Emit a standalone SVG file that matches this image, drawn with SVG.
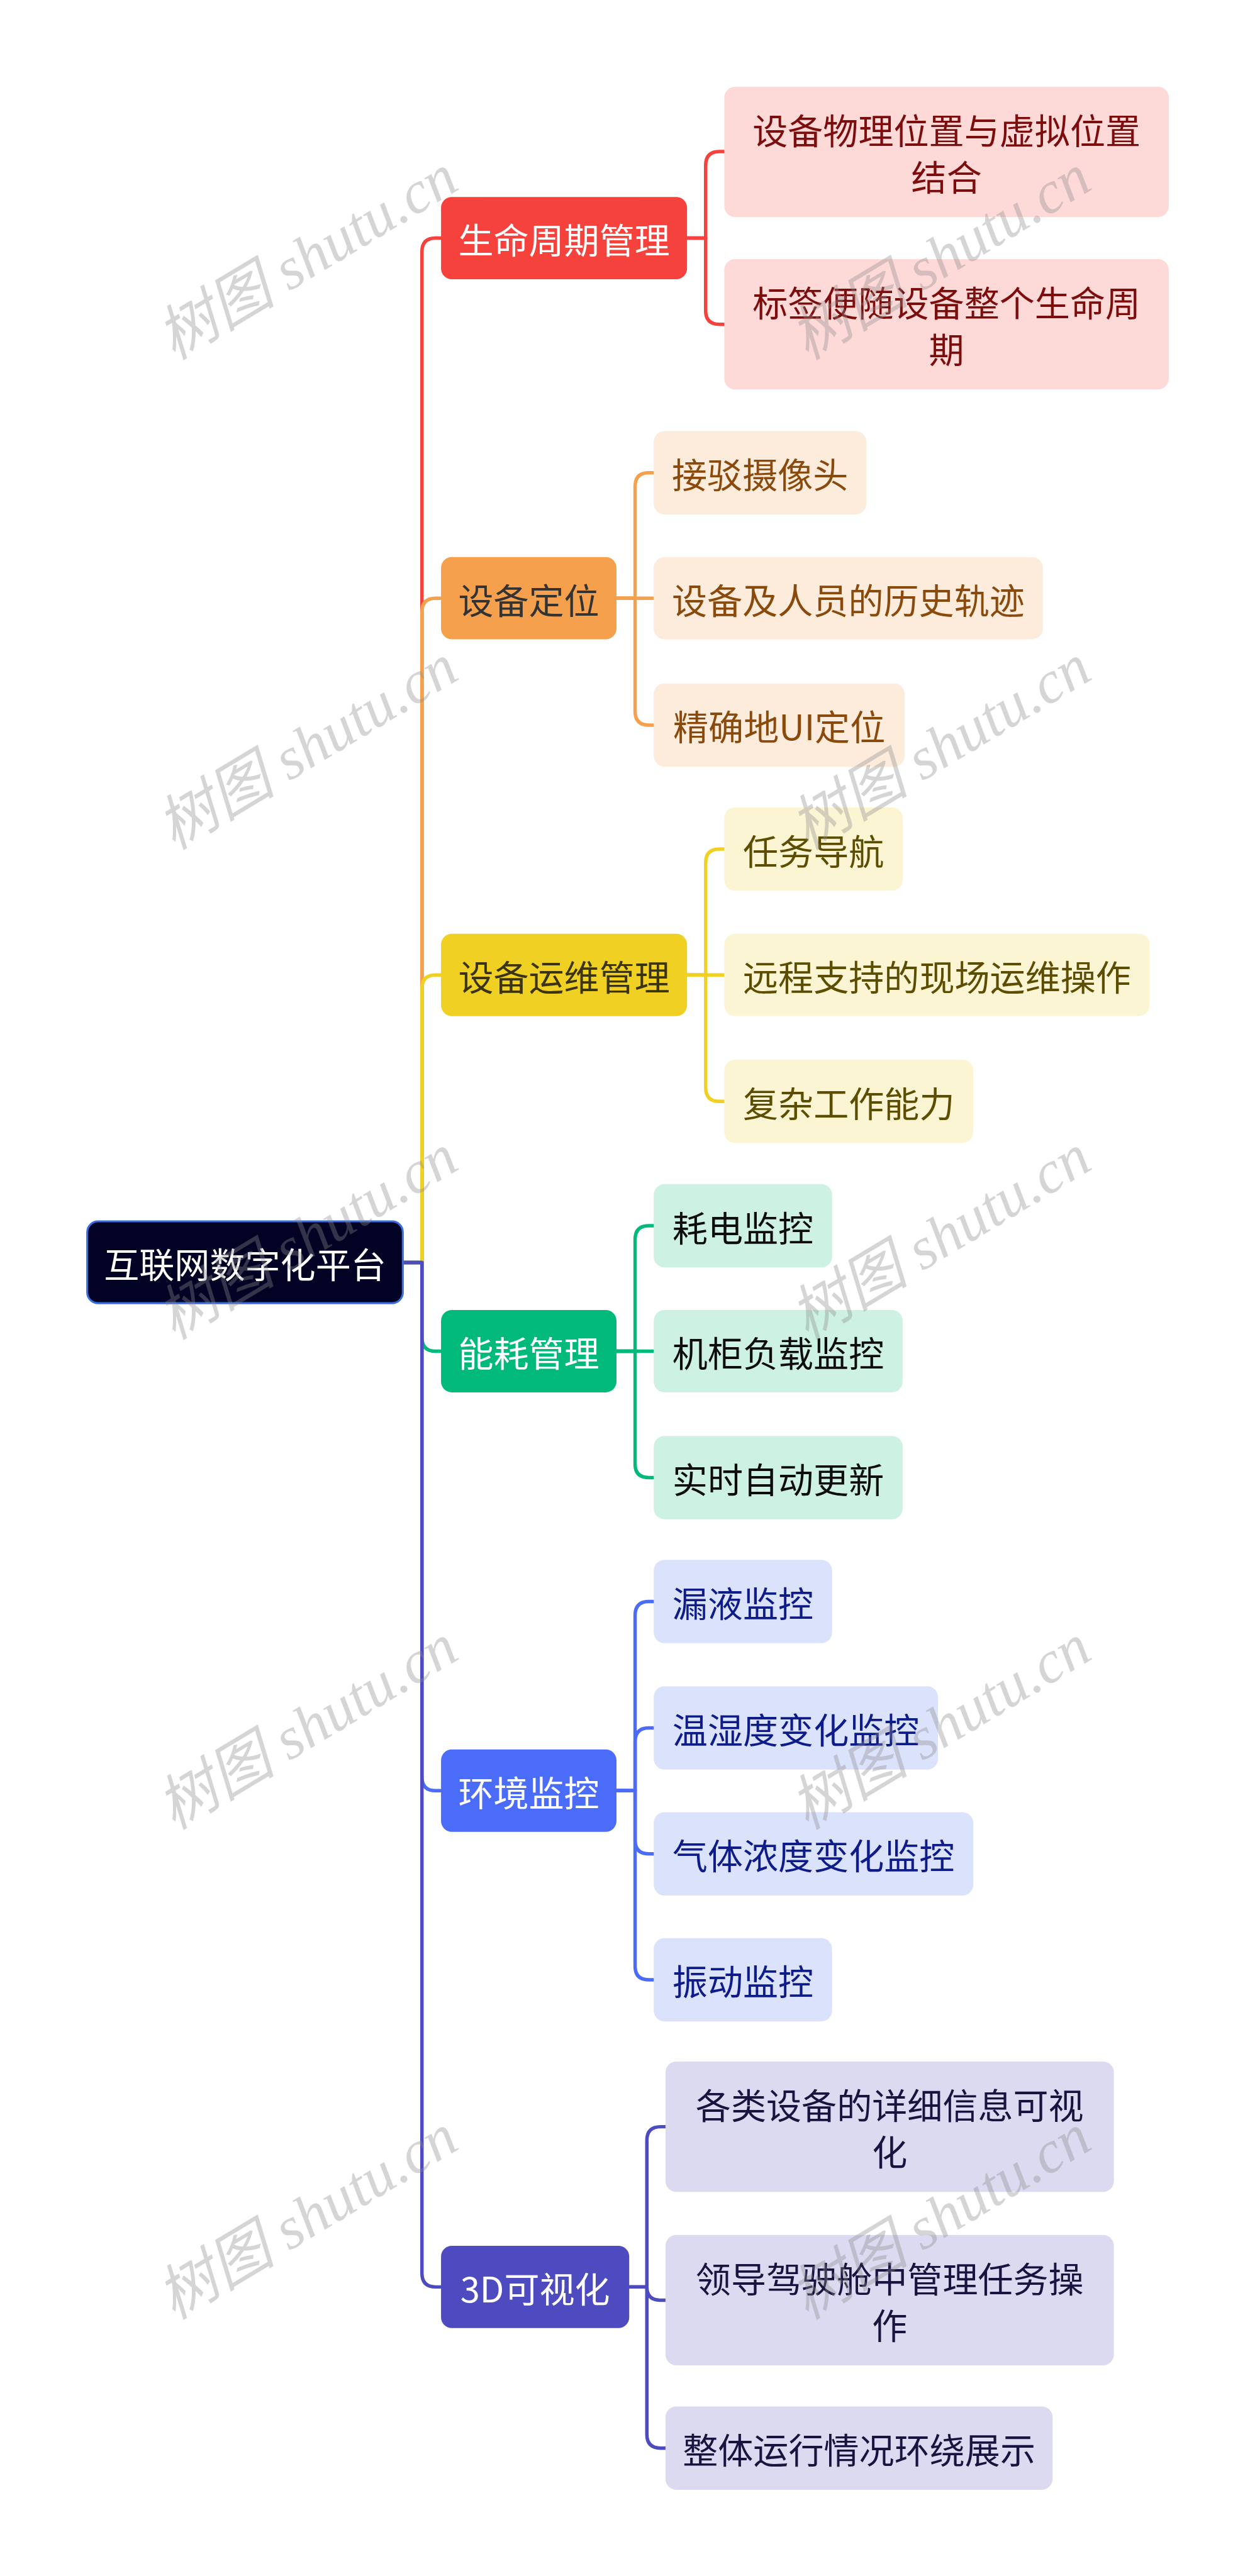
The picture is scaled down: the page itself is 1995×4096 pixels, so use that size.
<svg xmlns="http://www.w3.org/2000/svg" width="1995" height="4096" viewBox="0 0 1995 4096">
<style>
text{font-family:"Noto Sans CJK SC","Noto Sans",sans-serif;text-anchor:middle;dominant-baseline:central}
.l1{font-size:72px}
.l2{font-size:72px}
.root{font-size:72px;fill:#ffffff}
.c{fill:none;stroke-width:7;stroke-linejoin:round}
.wm{font-family:"Liberation Serif","Noto Sans CJK SC",serif;font-style:italic;font-size:122px;fill:#8a8a8a;fill-opacity:0.36;dominant-baseline:auto}
</style>
<rect width="1995" height="4096" fill="#ffffff"/>
<g transform="scale(0.779)">
<g id="connectors">
<path class="c" stroke="#f5423c" d="M822 2577H861V514Q861 486 889 486H902"/>
<path class="c" stroke="#f5423c" d="M1402 486H1440V337.5Q1440 309.5 1468 309.5H1480"/>
<path class="c" stroke="#f5423c" d="M1402 486H1440V634Q1440 662 1468 662H1480"/>
<path class="c" stroke="#f5a04d" d="M822 2577H861V1249Q861 1221 889 1221H902"/>
<path class="c" stroke="#f5a04d" d="M1258 1221H1296V993Q1296 965 1324 965H1336"/>
<path class="c" stroke="#f5a04d" d="M1258 1221H1336"/>
<path class="c" stroke="#f5a04d" d="M1258 1221H1296V1452Q1296 1480 1324 1480H1336"/>
<path class="c" stroke="#f0d123" d="M822 2577H861V2018Q861 1990 889 1990H902"/>
<path class="c" stroke="#f0d123" d="M1402 1990H1440V1761Q1440 1733 1468 1733H1480"/>
<path class="c" stroke="#f0d123" d="M1402 1990H1480"/>
<path class="c" stroke="#f0d123" d="M1402 1990H1440V2220Q1440 2248 1468 2248H1480"/>
<path class="c" stroke="#00b97a" d="M822 2577H861V2730Q861 2758 889 2758H902"/>
<path class="c" stroke="#00b97a" d="M1258 2758H1296V2530Q1296 2502 1324 2502H1336"/>
<path class="c" stroke="#00b97a" d="M1258 2758H1336"/>
<path class="c" stroke="#00b97a" d="M1258 2758H1296V2988Q1296 3016 1324 3016H1336"/>
<path class="c" stroke="#4a6cf8" d="M822 2577H861V3627Q861 3655 889 3655H902"/>
<path class="c" stroke="#4a6cf8" d="M1258 3655H1296V3297Q1296 3269 1324 3269H1336"/>
<path class="c" stroke="#4a6cf8" d="M1258 3655H1296V3555Q1296 3527 1324 3527H1336"/>
<path class="c" stroke="#4a6cf8" d="M1258 3655H1296V3756Q1296 3784 1324 3784H1336"/>
<path class="c" stroke="#4a6cf8" d="M1258 3655H1296V4013Q1296 4041 1324 4041H1336"/>
<path class="c" stroke="#4d4bbf" d="M822 2577H861V4640Q861 4668 889 4668H902"/>
<path class="c" stroke="#4d4bbf" d="M1284 4668H1320V4369Q1320 4341 1348 4341H1360"/>
<path class="c" stroke="#4d4bbf" d="M1284 4668H1320Q1320 4695 1347 4695H1360"/>
<path class="c" stroke="#4d4bbf" d="M1284 4668H1320V4969Q1320 4997 1348 4997H1360"/>
</g>

<g id="root">
<rect x="178" y="2493" width="644" height="167" rx="22" fill="#020224" stroke="#3a6ee0" stroke-width="4"/>
<text class="root" x="500" y="2577">互联网数字化平台</text>
</g>

<g id="n1">
<rect x="900" y="402" width="502" height="168" rx="22" fill="#f5423c"/>
<text class="l1" x="1151" y="486" fill="#ffffff">生命周期管理</text>
</g>
<g id="n1a">
<rect x="1478" y="177" width="907" height="266" rx="22" fill="#fdd9d8"/>
<text class="l2" x="1931.5" y="262" fill="#7d0c0c">设备物理位置与虚拟位置</text>
<text class="l2" x="1931.5" y="357" fill="#7d0c0c">结合</text>
</g>
<g id="n1b">
<rect x="1478" y="529" width="907" height="266" rx="22" fill="#fdd9d8"/>
<text class="l2" x="1931.5" y="614.5" fill="#7d0c0c">标签便随设备整个生命周</text>
<text class="l2" x="1931.5" y="709.5" fill="#7d0c0c">期</text>
</g>

<g id="n2">
<rect x="900" y="1137" width="358" height="168" rx="22" fill="#f5a04d"/>
<text class="l1" x="1079" y="1221" fill="#333333">设备定位</text>
</g>
<g id="n2a">
<rect x="1334" y="880" width="434" height="170" rx="22" fill="#fdecdc"/>
<text class="l2" x="1551" y="965" fill="#8a4a0c">接驳摄像头</text>
</g>
<g id="n2b">
<rect x="1334" y="1137" width="794" height="168" rx="22" fill="#fdecdc"/>
<text class="l2" x="1731" y="1221" fill="#8a4a0c">设备及人员的历史轨迹</text>
</g>
<g id="n2c">
<rect x="1334" y="1395" width="512" height="170" rx="22" fill="#fdecdc"/>
<text class="l2" x="1590" y="1480" fill="#8a4a0c">精确地UI定位</text>
</g>

<g id="n3">
<rect x="900" y="1906" width="502" height="168" rx="22" fill="#f0d123"/>
<text class="l1" x="1151" y="1990" fill="#3a3410">设备运维管理</text>
</g>
<g id="n3a">
<rect x="1478" y="1648" width="364" height="170" rx="22" fill="#fcf5d3"/>
<text class="l2" x="1660" y="1733" fill="#5c4d00">任务导航</text>
</g>
<g id="n3b">
<rect x="1478" y="1906" width="868" height="168" rx="22" fill="#fcf5d3"/>
<text class="l2" x="1912" y="1990" fill="#5c4d00">远程支持的现场运维操作</text>
</g>
<g id="n3c">
<rect x="1478" y="2163" width="508" height="170" rx="22" fill="#fcf5d3"/>
<text class="l2" x="1732" y="2248" fill="#5c4d00">复杂工作能力</text>
</g>

<g id="n4">
<rect x="900" y="2674" width="358" height="168" rx="22" fill="#00b97a"/>
<text class="l1" x="1079" y="2758" fill="#ffffff">能耗管理</text>
</g>
<g id="n4a">
<rect x="1334" y="2417" width="364" height="170" rx="22" fill="#cdf1e3"/>
<text class="l2" x="1516" y="2502" fill="#0d0d0d">耗电监控</text>
</g>
<g id="n4b">
<rect x="1334" y="2674" width="508" height="168" rx="22" fill="#cdf1e3"/>
<text class="l2" x="1588" y="2758" fill="#0d0d0d">机柜负载监控</text>
</g>
<g id="n4c">
<rect x="1334" y="2931" width="508" height="170" rx="22" fill="#cdf1e3"/>
<text class="l2" x="1588" y="3016" fill="#0d0d0d">实时自动更新</text>
</g>

<g id="n5">
<rect x="900" y="3571" width="358" height="168" rx="22" fill="#4a6cf8"/>
<text class="l1" x="1079" y="3655" fill="#ffffff">环境监控</text>
</g>
<g id="n5a">
<rect x="1334" y="3184" width="364" height="170" rx="22" fill="#dbe2fc"/>
<text class="l2" x="1516" y="3269" fill="#0e1c8a">漏液监控</text>
</g>
<g id="n5b">
<rect x="1334" y="3442" width="580" height="170" rx="22" fill="#dbe2fc"/>
<text class="l2" x="1624" y="3527" fill="#0e1c8a">温湿度变化监控</text>
</g>
<g id="n5c">
<rect x="1334" y="3699" width="652" height="170" rx="22" fill="#dbe2fc"/>
<text class="l2" x="1660" y="3784" fill="#0e1c8a">气体浓度变化监控</text>
</g>
<g id="n5d">
<rect x="1334" y="3956" width="364" height="170" rx="22" fill="#dbe2fc"/>
<text class="l2" x="1516" y="4041" fill="#0e1c8a">振动监控</text>
</g>

<g id="n6">
<rect x="900" y="4584" width="384" height="168" rx="22" fill="#4d4bbf"/>
<text class="l1" x="1092" y="4668" fill="#ffffff">3D可视化</text>
</g>
<g id="n6a">
<rect x="1358" y="4208" width="915" height="266" rx="22" fill="#dcdaf1"/>
<text class="l2" x="1815.5" y="4293.5" fill="#17153f">各类设备的详细信息可视</text>
<text class="l2" x="1815.5" y="4388.5" fill="#17153f">化</text>
</g>
<g id="n6b">
<rect x="1358" y="4562" width="915" height="266" rx="22" fill="#dcdaf1"/>
<text class="l2" x="1815.5" y="4647.5" fill="#17153f">领导驾驶舱中管理任务操</text>
<text class="l2" x="1815.5" y="4742.5" fill="#17153f">作</text>
</g>
<g id="n6c">
<rect x="1358" y="4912" width="790" height="170" rx="22" fill="#dcdaf1"/>
<text class="l2" x="1753" y="4997" fill="#17153f">整体运行情况环绕展示</text>
</g>

<g id="watermarks">
<text class="wm" transform="translate(648 560) rotate(-31)">树图 shutu.cn</text>
<text class="wm" transform="translate(1940 560) rotate(-31)">树图 shutu.cn</text>
<text class="wm" transform="translate(648 1560) rotate(-31)">树图 shutu.cn</text>
<text class="wm" transform="translate(1940 1560) rotate(-31)">树图 shutu.cn</text>
<text class="wm" transform="translate(648 2560) rotate(-31)">树图 shutu.cn</text>
<text class="wm" transform="translate(1940 2560) rotate(-31)">树图 shutu.cn</text>
<text class="wm" transform="translate(648 3560) rotate(-31)">树图 shutu.cn</text>
<text class="wm" transform="translate(1940 3560) rotate(-31)">树图 shutu.cn</text>
<text class="wm" transform="translate(648 4560) rotate(-31)">树图 shutu.cn</text>
<text class="wm" transform="translate(1940 4560) rotate(-31)">树图 shutu.cn</text>
</g>
</g>
</svg>
